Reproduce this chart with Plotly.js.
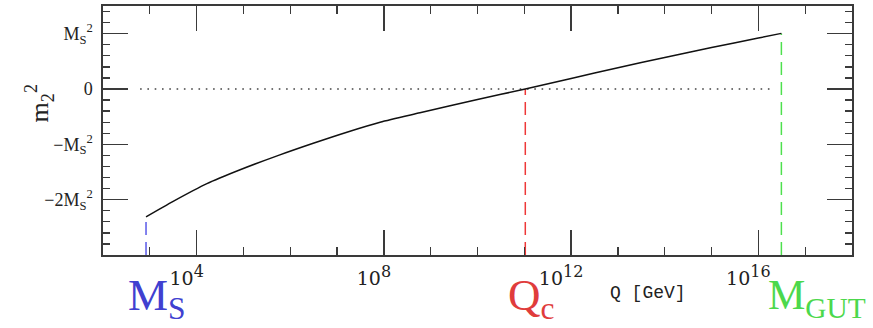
<!DOCTYPE html>
<html>
<head>
<meta charset="utf-8">
<script src="https://cdn.plot.ly/plotly-3.0.1.min.js"></script>
<style>html,body{margin:0;padding:0;background:#fff;}#chart{width:873px;height:328px;}</style>
</head>
<body>
<div id="chart"></div>
<script>
// Data
const curveQ = [8.3e2, 3.16e3, 1.66e4, 8.5e4, 6.0e5, 3.1e6, 1.62e7, 8.3e7, 5.9e8, 1.0e10, 1.05e11, 1.0e12, 1.0e13, 1.0e14, 1.0e15, 1.0e16, 3.1e16];
const curveM2 = [-2.31, -2.03, -1.71, -1.46, -1.19, -0.98, -0.78, -0.60, -0.43, -0.19, 0.0, 0.19, 0.385, 0.57, 0.75, 0.92, 1.005];
const zeroQ = [6.2e2, 1.8e16];
const zeroM2 = [0, 0];
const msQ = 8.3e2, msM2 = -2.31;
const qcQ = 1.05e11, qcM2 = 0.0;
const gutQ = 3.1e16, gutM2 = 1.005;
const yBottom = -3;
const xTickVals = [1e4, 1e8, 1e12, 1e16];
const xTickExp = ['4', '8', '12', '16'];
const yTickVals = [-2, -1, 0, 1];
const yTickText = ['−2M<sub>S</sub><sup>2</sup>', '−M<sub>S</sub><sup>2</sup>', '0', 'M<sub>S</sub><sup>2</sup>'];
const xTickText = xTickExp.map(e => '10<sup><span style="font-size:16px">' + e + '</span></sup>');

const frameColor = '#3a3a3a';
const traces = [
  {x: zeroQ, y: zeroM2, mode: 'lines', line: {color: '#444', width: 1.6, dash: '1.6px,5.7px'}, hoverinfo: 'skip'},
  {x: [msQ, msQ], y: [yBottom, msM2], mode: 'lines', line: {color: '#5a5ae8', width: 1.5, dash: '13px,7px'}},
  {x: [qcQ, qcQ], y: [yBottom, qcM2], mode: 'lines', line: {color: '#ee3838', width: 1.5, dash: '13px,7px'}},
  {x: [gutQ, gutQ], y: [yBottom, gutM2], mode: 'lines', line: {color: '#4ee04e', width: 1.5, dash: '13px,7px'}},
  {x: curveQ, y: curveM2, mode: 'lines', line: {color: '#111', width: 1.5, shape: 'spline', smoothing: 0.7}}
];

const layout = {
  width: 873, height: 328,
  margin: {l: 103, r: 21, t: 6, b: 73, pad: 0},
  paper_bgcolor: '#fff', plot_bgcolor: '#fff',
  showlegend: false,
  xaxis: {
    type: 'log', range: [2, 18],
    tickmode: 'array', tickvals: xTickVals, ticktext: xTickText,
    ticks: 'inside', ticklen: 25, tickwidth: 1.3, tickcolor: frameColor,
    minor: {dtick: 1, ticks: 'inside', ticklen: 8, tickwidth: 1.3, tickcolor: frameColor},
    showline: true, linecolor: frameColor, linewidth: 1.6, mirror: 'ticks',
    showgrid: false, zeroline: false,
    tickfont: {family: 'DejaVu Serif, serif', size: 19, color: '#222'}, ticklabelshift: -10, ticklabelstandoff: 6
  },
  yaxis: {
    range: [-3, 1.5],
    tickmode: 'array', tickvals: yTickVals, ticktext: yTickText,
    ticks: 'inside', ticklen: 25, tickwidth: 1.3, tickcolor: frameColor,
    minor: {dtick: 0.2, tick0: 0, ticks: 'inside', ticklen: 7, tickwidth: 1.3, tickcolor: frameColor},
    showline: true, linecolor: frameColor, linewidth: 1.6, mirror: 'ticks',
    showgrid: false, zeroline: false,
    tickfont: {family: 'Liberation Serif, serif', size: 18, color: '#222'}, ticklabelstandoff: 5
  },
  annotations: [
    {xref: 'paper', yref: 'paper', x: -0.085, xanchor: 'center', y: 0.61, yanchor: 'middle', text: 'm<sub>2</sub><sup>2</sup>', textangle: -90,
     showarrow: false, font: {family: 'Liberation Serif, serif', size: 26, color: '#222'}},
    {xref: 'x', yref: 'paper', x: Math.log10(msQ), xanchor: 'center', y: 0, xshift: 11, yanchor: 'top', yshift: -13,
     text: 'M<sub>S</sub>', showarrow: false, font: {family: 'Liberation Serif, serif', size: 45, color: '#4040d0'}},
    {xref: 'x', yref: 'paper', x: Math.log10(qcQ), xanchor: 'center', y: 0, xshift: 6, yanchor: 'top', yshift: -13,
     text: 'Q<sub>c</sub>', showarrow: false, font: {family: 'Liberation Serif, serif', size: 45, color: '#e03c3c'}},
    {xref: 'x', yref: 'paper', x: Math.log10(gutQ), xanchor: 'center', y: 0, xshift: 36, yanchor: 'top', yshift: -15,
     text: 'M<sub>GUT</sub>', showarrow: false, font: {family: 'Liberation Serif, serif', size: 42, color: '#4cd84c'}},
    {xref: 'paper', yref: 'paper', x: 0.728, xanchor: 'center', y: 0, yanchor: 'top', yshift: -26,
     text: 'Q [GeV]', showarrow: false, font: {family: 'Liberation Mono, monospace', size: 18, color: '#222'}}
  ]
};
Plotly.newPlot('chart', traces, layout, {staticPlot: true, displayModeBar: false});
</script>
</body>
</html>
